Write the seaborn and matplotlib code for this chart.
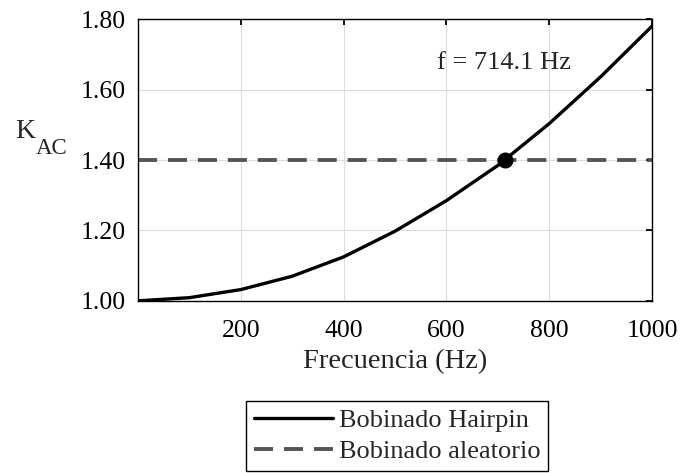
import matplotlib
matplotlib.use("Agg")
import matplotlib.pyplot as plt
import seaborn as sns
import pandas as pd

# K_AC vs frequency
freq_hz = [0, 100, 200, 300, 400, 500, 600, 700, 800, 900, 1000]
k_hairpin = [1.000, 1.009, 1.032, 1.070, 1.125, 1.198, 1.285, 1.385, 1.504, 1.637, 1.781]
k_random = 1.40
f_cross = 714.1

sns.set_theme(style="whitegrid")
plt.rcParams['font.family'] = ['Liberation Serif', 'DejaVu Serif']

df = pd.DataFrame({"freq": freq_hz, "kac": k_hairpin})
df_rand = pd.DataFrame({"freq": [freq_hz[0], freq_hz[-1]], "kac": [k_random, k_random]})

fig = plt.figure(figsize=(6.8, 4.73), dpi=100)
ax = fig.add_axes([0.203, 0.364, 0.756, 0.595])

sns.lineplot(data=df, x="freq", y="kac", ax=ax, color="black", linewidth=2.4,
             label="Bobinado Hairpin")
sns.lineplot(data=df_rand, x="freq", y="kac", ax=ax, color="#555555", linewidth=2.8,
             linestyle=(0, (4.9, 2.8)), label="Bobinado aleatorio")
ax.plot([f_cross], [k_random], "o", color="black", markersize=10.5, zorder=5)
ax.text(712, 1.677, "f = 714.1 Hz", fontsize=19, ha="center", va="center")

ax.set_xlim(0, 1000)
ax.set_ylim(1.0, 1.8)
ax.set_xticks([200, 400, 600, 800, 1000])
ax.set_yticks([1.0, 1.2, 1.4, 1.6, 1.8])
ax.set_yticklabels([f"{v:.2f}" for v in [1.0, 1.2, 1.4, 1.6, 1.8]])
ax.tick_params(axis="both", labelsize=18.5, direction="in", length=4, width=1.3,
               top=True, right=True, colors="black")
ax.tick_params(axis="y", pad=9)
ax.tick_params(axis="x", pad=14)
ax.grid(True, color="#dcdcdc", linewidth=0.8)
for s in ax.spines.values():
    s.set_color("black")
    s.set_linewidth(1.0)

ax.set_xlabel("Frecuencia (Hz)", fontsize=20.5, labelpad=5, color="#222222")
ax.set_ylabel("")
fig.text(25 / 680, 1 - 131 / 473, "K", fontsize=20, ha="center", va="center")
fig.text(52 / 680, 1 - 148 / 473, "AC", fontsize=16.5, ha="center", va="center")

ax.legend_.remove()
leg = fig.legend(*ax.get_legend_handles_labels(), loc="upper center",
                 bbox_to_anchor=(0.584, 0.152), fontsize=19,
                 frameon=True, fancybox=False, edgecolor="black", framealpha=1,
                 handlelength=3.0, borderpad=0.3, labelspacing=0.28, handletextpad=0.22,
                 borderaxespad=0)
leg.get_frame().set_linewidth(1.0)

fig.savefig("out.png", dpi=100)
